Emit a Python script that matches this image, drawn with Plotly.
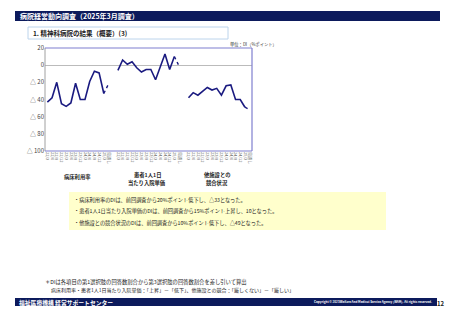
import plotly.graph_objects as go

# ---- data ----
quarters = ["22/3", "22/6", "22/9", "22/12", "23/3", "23/6", "23/9", "23/12",
            "24/3", "24/6", "24/9", "24/12", "25/3"]
forecast_label = "見通し"
groups = [["病床利用率"], ["患者1人1日", "当たり入院単価"], ["他施設との", "競合状況"]]
bed_rate = [-43, -38, -20, -45, -48, -44, -21, -40, -40, -19, -7, -9, -33]
bed_rate_fc = -22
unit_price = [-6, 6, 1, 4, -3, -8, -5, -5, -17, -2, 13, -5, 10]
unit_price_fc = -1
competition = [-38, -32, -35, -30, -26, -29, -27, -35, -24, -23, -40, -40, -49]
competition_fc = -52
series = [(bed_rate, bed_rate_fc), (unit_price, unit_price_fc), (competition, competition_fc)]
y_ticks = [20, 0, -20, -40, -60, -80, -100]
y_ticktext = ["20", "0", "△ 20", "△ 40", "△ 60", "△ 80", "△ 100"]
bullets = [
    "・病床利用率のDIは、前回調査から20%ポイント低下し、△33となった。",
    "・患者1人1日当たり入院単価のDIは、前回調査から15%ポイント上昇し、10となった。",
    "・他施設との競合状況のDIは、前回調査から10%ポイント低下し、△49となった。",
]
notes = [
    "＊DIは各項目の第1選択肢の回答数割合から第3選択肢の回答数割合を差し引いて算出",
    "病床利用率・患者1人1日当たり入院単価：「上昇」－「低下」、他施設との競合：「厳しくない」－「厳しい」",
]

FONT = "Noto Sans CJK JP"
NAVY = "#0c1a5c"
LINE = "#1a1a80"
W, H = 453, 320

fig = go.Figure()
tickvals, ticktext = [], []
step = len(quarters) + 2
for g, (vals, fc) in enumerate(series):
    base = g * step
    xs = [base + i for i in range(len(vals))]
    fig.add_trace(go.Scatter(x=xs, y=vals, mode="lines",
                             line=dict(color=LINE, width=1.6), showlegend=False))
    fig.add_trace(go.Scatter(x=[xs[-1], base + len(vals)], y=[vals[-1], fc], mode="lines",
                             line=dict(color=LINE, width=1.4, dash="dot"), showlegend=False))
    tickvals += xs + [base + len(vals)]
    ticktext += quarters + [forecast_label]

L, R, T, B = 45, 252, 48, 151
fig.update_layout(
    width=W, height=H, paper_bgcolor="white", plot_bgcolor="white",
    margin=dict(l=L, r=W - R, t=T, b=H - B, autoexpand=False),
    font=dict(family=FONT, color="#222"),
    xaxis=dict(range=[-0.5, 3 * step - 1.5], tickvals=tickvals, ticktext=ticktext,
               tickangle=90, tickfont=dict(size=4, color="#666"), showgrid=False,
               zeroline=False, showline=False, ticks="", automargin=False),
    yaxis=dict(range=[-100, 20], tickvals=y_ticks, ticktext=y_ticktext,
               tickfont=dict(size=6, color="#444"), showgrid=False, zeroline=True,
               zerolinecolor="#bbbbbb", zerolinewidth=1, showline=False, ticks="",
               automargin=False),
)

shapes = []
shapes.append(dict(type="line", xref="paper", yref="paper", x0=0, x1=0, y0=0, y1=1,
                   line=dict(color="#a0a0a0", width=1)))
for (x0, y0, x1, y1) in [(0, 1, 1, 1), (1, 0, 1, 1), (0, 0, 1, 0)]:
    shapes.append(dict(type="line", xref="paper", yref="paper", x0=x0, x1=x1, y0=y0, y1=y1,
                       line=dict(color="#7f7fcf", width=1.2)))


def px(x):
    return (x - L) / (R - L)


def py(y):
    return (B - y) / (B - T)


shapes.append(dict(type="rect", xref="paper", yref="paper", x0=px(15), x1=px(440),
                   y0=py(21), y1=py(11), fillcolor=NAVY, line=dict(width=0), layer="below"))
shapes.append(dict(type="rect", xref="paper", yref="paper", x0=px(28), x1=px(228),
                   y0=py(39), y1=py(27), fillcolor="white",
                   line=dict(color="#bcd4ec", width=1), layer="below"))
shapes.append(dict(type="rect", xref="paper", yref="paper", x0=px(69), x1=px(386),
                   y0=py(230), y1=py(192), fillcolor="#ffffcc", line=dict(width=0), layer="below"))
shapes.append(dict(type="rect", xref="paper", yref="paper", x0=px(15), x1=px(437),
                   y0=py(306), y1=py(298), fillcolor=NAVY, line=dict(width=0), layer="below"))
fig.update_layout(shapes=shapes)

ann = []


def text(x, y, s, size, color="#222", xanchor="left", bold=False):
    ann.append(dict(x=px(x), y=py(y), xref="paper", yref="paper", text=f"<b>{s}</b>" if bold else s,
                    showarrow=False, xanchor=xanchor, yanchor="middle",
                    font=dict(size=size, color=color, family=FONT)))


text(18, 16, "病院経営動向調査（2025年3月調査）", 7, "white", bold=True)
text(31, 33, "1. 精神科病院の結果（概要）(3)", 6.5, "#222", bold=True)
text(253, 44.5, "単位：DI（%ポイント）", 4.3, "#333", xanchor="center")
group_x = [77, 147, 217]
for gx, glines in zip(group_x, groups):
    if len(glines) == 1:
        text(gx, 177, glines[0], 5.3, "#222", xanchor="center", bold=True)
    else:
        text(gx, 174.5, glines[0], 5.3, "#222", xanchor="center", bold=True)
        text(gx, 182.5, glines[1], 5.3, "#222", xanchor="center", bold=True)
for i, b in enumerate(bullets):
    text(72, 199.5 + i * 11.5, b, 5.2, "#222")
text(43, 281.5, notes[0], 5.3, "#222")
text(49, 289.5, notes[1], 5.0, "#222")
text(17, 302, "福祉医療機構 経営サポートセンター", 5.8, "white", bold=True)
text(434, 302, "Copyright © 2025Welfare And Medical Service Agency (WAM). All rights reserved.",
     3, "white", xanchor="right", bold=True)
text(441, 303, "12", 6, "#222", xanchor="center", bold=True)
fig.update_layout(annotations=ann)

fig.write_html("out.html")
